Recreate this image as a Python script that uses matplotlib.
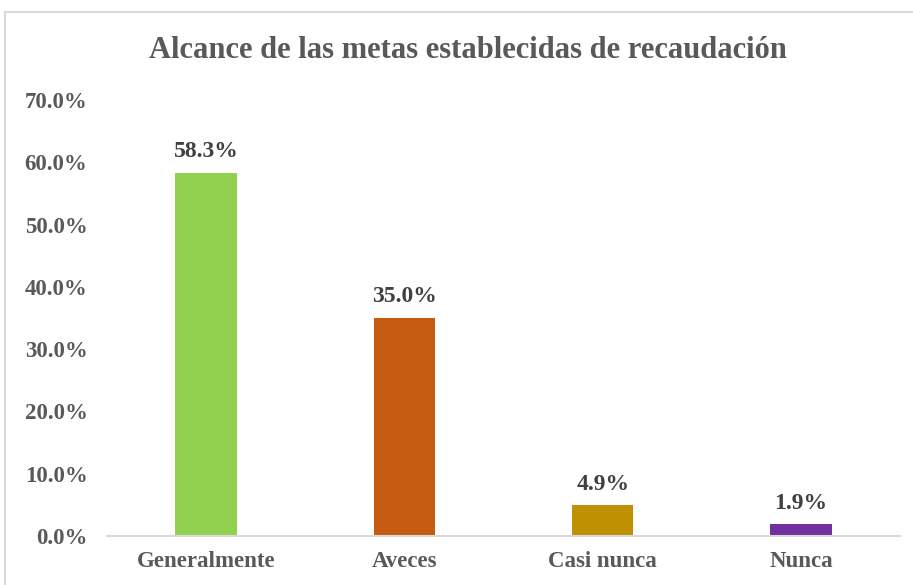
import matplotlib.pyplot as plt
from matplotlib.patches import Rectangle

categorias = ["Generalmente", "Aveces", "Casi nunca", "Nunca"]
porcentajes = [58.3, 35.0, 4.9, 1.9]
colores = ["#92D050", "#C55A11", "#BF9000", "#7030A0"]
ticks_y = [0, 10, 20, 30, 40, 50, 60, 70]

plt.rcParams['font.family'] = ['Liberation Serif', 'DejaVu Serif']
gris = "#595959"

fig = plt.figure(figsize=(9.13, 5.85), dpi=100)
ax = fig.add_axes([0.117, 0.0838, 0.869, 0.745])

# marco del grafico (se corta a la derecha y abajo)
fig.patches.append(Rectangle((5 / 913, -0.05), 1.0, 1 - 12 / 585 + 0.05,
                             transform=fig.transFigure, fill=False,
                             edgecolor="#D9D9D9", linewidth=1.5))

x = range(len(categorias))
barras = ax.bar(x, porcentajes, width=0.31, color=colores)

for xi, v in zip(x, porcentajes):
    ax.text(xi, v + 1.7, f"{v:.1f}%", ha="center", va="bottom",
            fontsize=17, fontweight="bold", color="#404040")

ax.set_xlim(-0.5, 3.5)
ax.set_ylim(0, 70)
ax.set_yticks(ticks_y)
ax.set_yticklabels([f"{t:.1f}%" for t in ticks_y])
ax.set_xticks(list(x))
ax.set_xticklabels(categorias)

for s in ["top", "right", "left"]:
    ax.spines[s].set_visible(False)
ax.spines["bottom"].set_color("#D9D9D9")
ax.spines["bottom"].set_linewidth(1.5)
ax.tick_params(axis="both", length=0, labelsize=16.5, labelcolor=gris)
ax.tick_params(axis="x", pad=11)
ax.tick_params(axis="y", pad=14)
for lbl in ax.get_xticklabels() + ax.get_yticklabels():
    lbl.set_fontweight("bold")

fig.text(0.512, 1 - 51 / 585, "Alcance de las metas establecidas de recaudación",
         ha="center", va="center", fontsize=22, fontweight="bold", color=gris)

fig.savefig("out.png", dpi=100)
